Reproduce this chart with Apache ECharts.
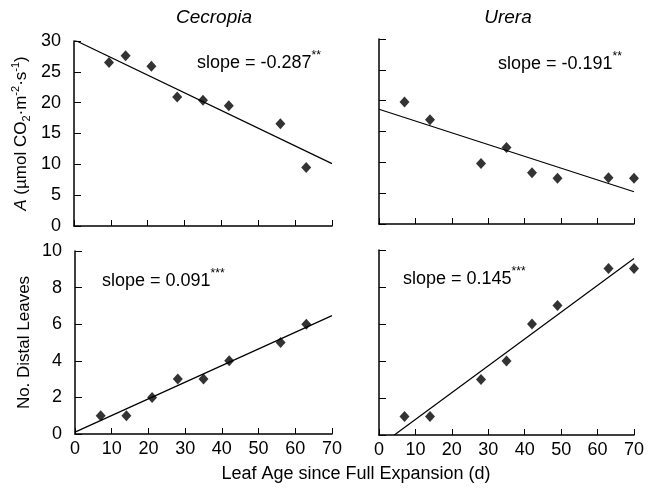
<!DOCTYPE html>
<html>
<head>
<meta charset="utf-8">
<script src="https://cdn.jsdelivr.net/npm/echarts@6/dist/echarts.min.js"></script>
<style>
  html, body { margin: 0; padding: 0; background: #fff; }
  #chart { width: 658px; height: 493px; }
</style>
</head>
<body>
<div id="chart"></div>
<script>
// Leaf age (days) at each sampling
const ageCecropiaA = [9.5, 14, 21, 28, 35, 42, 56, 63];
const ageUreraA    = [7, 14, 28, 35, 42, 49, 63, 70];
const ageCecropiaN = [7, 14, 21, 28, 35, 42, 56, 63];
const ageUreraN    = [7, 14, 28, 35, 42, 49, 63, 70];

// Photosynthetic rate A (µmol CO2 m-2 s-1)
const photoCecropia = [26.5, 27.6, 25.9, 20.9, 20.4, 19.5, 16.6, 9.5];
const photoUrera    = [19.8, 16.9, 9.8, 12.4, 8.3, 7.4, 7.5, 7.4];

// Number of distal leaves
const distalCecropia = [1, 1, 2, 3, 3, 4, 5, 6];
const distalUrera    = [1, 1, 3, 4, 6, 7, 9, 9];

// Fitted regressions: slope, intercept, x range of the drawn line
const fitSlopes     = [-0.287, -0.191, 0.091, 0.145];
const fitIntercepts = [30.2, 18.6, 0.1, -0.61];
const fitStart      = [0, 0, 0, 4.2];
const fitEnd        = [70, 70, 70, 70];
const fitStars      = ['**', '**', '***', '***'];

const speciesNames = ['Cecropia', 'Urera'];
const xTicks = { min: 0, max: 70, interval: 10 };
const yTicksA = { min: 0, max: 30, interval: 5 };
const yTicksN = { min: 0, max: 10, interval: 2 };

const FONT = '"Liberation Sans", Arial, Helvetica, sans-serif';

const grids = [
  { left: 74,  top: 41,  width: 258, height: 185 },
  { left: 379, top: 39,  width: 255, height: 185 },
  { left: 75,  top: 251, width: 257, height: 183 },
  { left: 379, top: 250, width: 255, height: 185 }
];

function xAxis(i, showLabels) {
  return {
    type: 'value', gridIndex: i, min: xTicks.min, max: xTicks.max, interval: xTicks.interval,
    axisLine: { lineStyle: { color: '#000', width: 1.5 } },
    axisTick: { show: true, inside: true, length: 6, lineStyle: { color: '#000', width: 1 } },
    axisLabel: { show: showLabels, color: '#000', fontSize: 18, fontFamily: FONT, margin: 6 },
    splitLine: { show: false }
  };
}
function yAxis(i, ticks, showLabels, name) {
  const ax = {
    type: 'value', gridIndex: i, min: ticks.min, max: ticks.max, interval: ticks.interval,
    axisLine: { show: true, lineStyle: { color: '#000', width: 1.5 } },
    axisTick: { show: true, inside: true, length: 7, lineStyle: { color: '#000', width: 1 } },
    axisLabel: { show: showLabels, color: '#000', fontSize: 18, fontFamily: FONT, margin: 13 },
    splitLine: { show: false }
  };
  if (name) Object.assign(ax, name);
  return ax;
}

const pairs = (xs, ys) => xs.map((x, k) => [x, ys[k]]);
const fitLine = k => [
  [fitStart[k], fitIntercepts[k] + fitSlopes[k] * fitStart[k]],
  [fitEnd[k],   fitIntercepts[k] + fitSlopes[k] * fitEnd[k]]
];

const scatterData = [
  pairs(ageCecropiaA, photoCecropia),
  pairs(ageUreraA, photoUrera),
  pairs(ageCecropiaN, distalCecropia),
  pairs(ageUreraN, distalUrera)
];

const series = [];
for (let k = 0; k < 4; k++) {
  series.push({
    type: 'line', xAxisIndex: k, yAxisIndex: k, data: fitLine(k),
    symbol: 'none', lineStyle: { color: '#000', width: 1.2 }, silent: true, z: 2
  });
  series.push({
    type: 'scatter', xAxisIndex: k, yAxisIndex: k, data: scatterData[k],
    symbol: 'diamond', symbolSize: [10, 11], itemStyle: { color: '#000' }, z: 3
  });
}

// Slope annotations
const slopePos = [
  { left: 197, top: 50 },
  { left: 498, top: 51 },
  { left: 102, top: 268 },
  { left: 403, top: 266 }
];
const slopeRich = {
  a: { fontSize: 18, fontWeight: 'normal', fontFamily: FONT, color: '#000', lineHeight: 22, verticalAlign: 'bottom' },
  s: { fontSize: 12, fontWeight: 'normal', fontFamily: FONT, color: '#000', verticalAlign: 'top', lineHeight: 22 }
};
const titles = slopePos.map((p, k) => ({
  left: p.left, top: p.top, padding: 0,
  text: '{a|slope = ' + fitSlopes[k].toFixed(3) + '}{s|' + fitStars[k] + '}',
  textStyle: { fontWeight: 'normal', rich: slopeRich }
}));
// Species headings
titles.push({ left: 214, top: 8, padding: 0, textAlign: 'center', text: speciesNames[0],
  textStyle: { fontSize: 19, fontStyle: 'italic', fontWeight: 'normal', fontFamily: FONT, color: '#000' } });
titles.push({ left: 508, top: 8, padding: 0, textAlign: 'center', text: speciesNames[1],
  textStyle: { fontSize: 19, fontStyle: 'italic', fontWeight: 'normal', fontFamily: FONT, color: '#000' } });
// Shared x title
titles.push({ left: 356, top: 465, padding: 0, textAlign: 'center', text: 'Leaf Age since Full Expansion (d)',
  textStyle: { fontSize: 18, fontWeight: 'normal', fontFamily: FONT, color: '#000' } });

const yNameA = {
  name: '{i|A}{n| (µmol CO}{sub|2}{n|·m}{sup|-2}{n|·s}{sup|-1}{n|)}',
  nameLocation: 'middle', nameRotate: 90, nameGap: 42,
  nameTextStyle: {
    rich: {
      i: { fontSize: 17, fontStyle: 'italic', fontFamily: FONT, color: '#000', lineHeight: 22, verticalAlign: 'middle' },
      n: { fontSize: 17, fontFamily: FONT, color: '#000', lineHeight: 22, verticalAlign: 'middle' },
      sub: { fontSize: 11, fontFamily: FONT, color: '#000', verticalAlign: 'bottom', lineHeight: 22 },
      sup: { fontSize: 11, fontFamily: FONT, color: '#000', verticalAlign: 'top', lineHeight: 22 }
    }
  }
};
const yNameN = {
  name: 'No. Distal Leaves', nameLocation: 'middle', nameRotate: 90, nameGap: 42,
  nameTextStyle: { fontSize: 17, fontFamily: FONT, color: '#000' }
};

const chart = echarts.init(document.getElementById('chart'), null, { renderer: 'canvas' });
chart.setOption({
  backgroundColor: '#fff',
  animation: false,
  title: titles,
  grid: grids,
  xAxis: [xAxis(0, false), xAxis(1, false), xAxis(2, true), xAxis(3, true)],
  yAxis: [
    yAxis(0, yTicksA, true, yNameA),
    yAxis(1, yTicksA, false),
    yAxis(2, yTicksN, true, yNameN),
    yAxis(3, yTicksN, false)
  ],
  series: series
});
</script>
</body>
</html>
